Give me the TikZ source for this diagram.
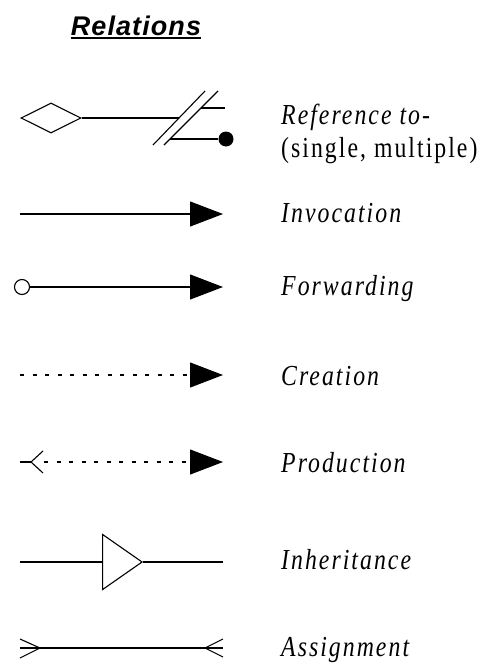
\documentclass[tikz,border=0pt]{standalone}
\usepackage{fontspec}
\usetikzlibrary{arrows.meta,shapes.geometric}
\newfontfamily\labelfont{Liberation Serif}[FakeStretch=0.82,LetterSpace=7]
\newfontfamily\headfont{Liberation Sans}[LetterSpace=4]

\begin{document}
\begin{tikzpicture}[x=1pt,y=-1pt]
    \tikzstyle{rel}=[line width=1.1pt]
    \tikzstyle{dotline}=[rel, dash pattern=on 4pt off 8.5pt]
    \tikzstyle{fullhead}=[-{Triangle[length=33pt,width=25pt]}]
    \tikzstyle{relname}=[anchor=base west, inner sep=0pt,
                         font=\labelfont\fontsize{29}{33}\selectfont\itshape]
    \tikzstyle{relnote}=[anchor=base west, inner sep=0pt,
                         font=\labelfont\fontsize{29}{33}\selectfont]
    \useasboundingbox (0,0) rectangle (480,664);

    % Heading
    \node [anchor=base, inner sep=0pt,
           font=\headfont\fontsize{27}{31}\selectfont\bfseries\itshape] (title) at (136,35) {Relations};
    \draw [line width=1.6pt] ([yshift=-3pt]title.base west) -- ([yshift=-3pt]title.base east);

    % Reference to: diamond, cut line, single and multiple ends
    \node [draw, rel, diamond, minimum width=60pt, minimum height=30pt, inner sep=0pt] (whole) at (51,118) {};
    \coordinate (cut) at (179,118);
    \coordinate (one) at (201,108);
    \coordinate (oneend) at (225,108);
    \coordinate (many) at (170,139);
    \node [circle, fill, minimum size=15pt, inner sep=0pt] (dot) at (226,139) {};
    \draw [rel] (whole.east) -- (cut);
    \draw [rel] (153,145) -- (205,91);
    \draw [rel] (164,145) -- (218,91);
    \draw [rel] (one) -- (oneend);
    \draw [rel] (many) -- (dot);
    \node [relname] (lref) at (281,124) {Reference to-};
    \node [relnote] (lrefnote) at (281,157) {(single, multiple)};

    % Invocation
    \coordinate (inv0) at (20,214);
    \coordinate (inv1) at (223,214);
    \draw [rel, fullhead] (inv0) -- (inv1);
    \node [relname] (linv) at (281,222) {Invocation};

    % Forwarding
    \node [draw, rel, circle, minimum size=15pt, inner sep=0pt] (fwd0) at (22,287) {};
    \coordinate (fwd1) at (223,287);
    \draw [rel, fullhead] (fwd0) -- (fwd1);
    \node [relname] (lfwd) at (281,295) {Forwarding};

    % Creation
    \coordinate (cre0) at (20,375);
    \coordinate (cre1) at (223,375);
    \draw [dotline, fullhead] (cre0) -- (cre1);
    \node [relname] (lcre) at (281,385) {Creation};

    % Production
    \coordinate (prd0) at (20,462);
    \coordinate (prdv) at (31,462);
    \coordinate (prd1) at (44,462);
    \coordinate (prd2) at (223,462);
    \draw [rel] (prd0) -- (prdv);
    \draw [rel] (43,451) -- (prdv) -- (43,473);
    \draw [dotline, fullhead] (prd1) -- (prd2);
    \node [relname] (lprd) at (281,472) {Production};

    % Inheritance
    \coordinate (inh0) at (20,562);
    \coordinate (inh1) at (143,562);
    \coordinate (inh2) at (223,562);
    \draw [rel, -{Triangle[open,length=41pt,width=57pt]}] (inh0) -- (inh1);
    \draw [rel] (inh1) -- (inh2);
    \node [relname] (linh) at (281,569) {Inheritance};

    % Assignment
    \coordinate (asg0) at (20,648);
    \coordinate (asg1) at (223,648);
    \coordinate (asgl) at (40,648);
    \coordinate (asgr) at (205,648);
    \draw [rel] (asg0) -- (asg1);
    \draw [rel] (20,639) -- (asgl) -- (20,658);
    \draw [rel] (223,639) -- (asgr) -- (223,657);
    \node [relname] (lasg) at (281,656) {Assignment};
\end{tikzpicture}
\end{document}
